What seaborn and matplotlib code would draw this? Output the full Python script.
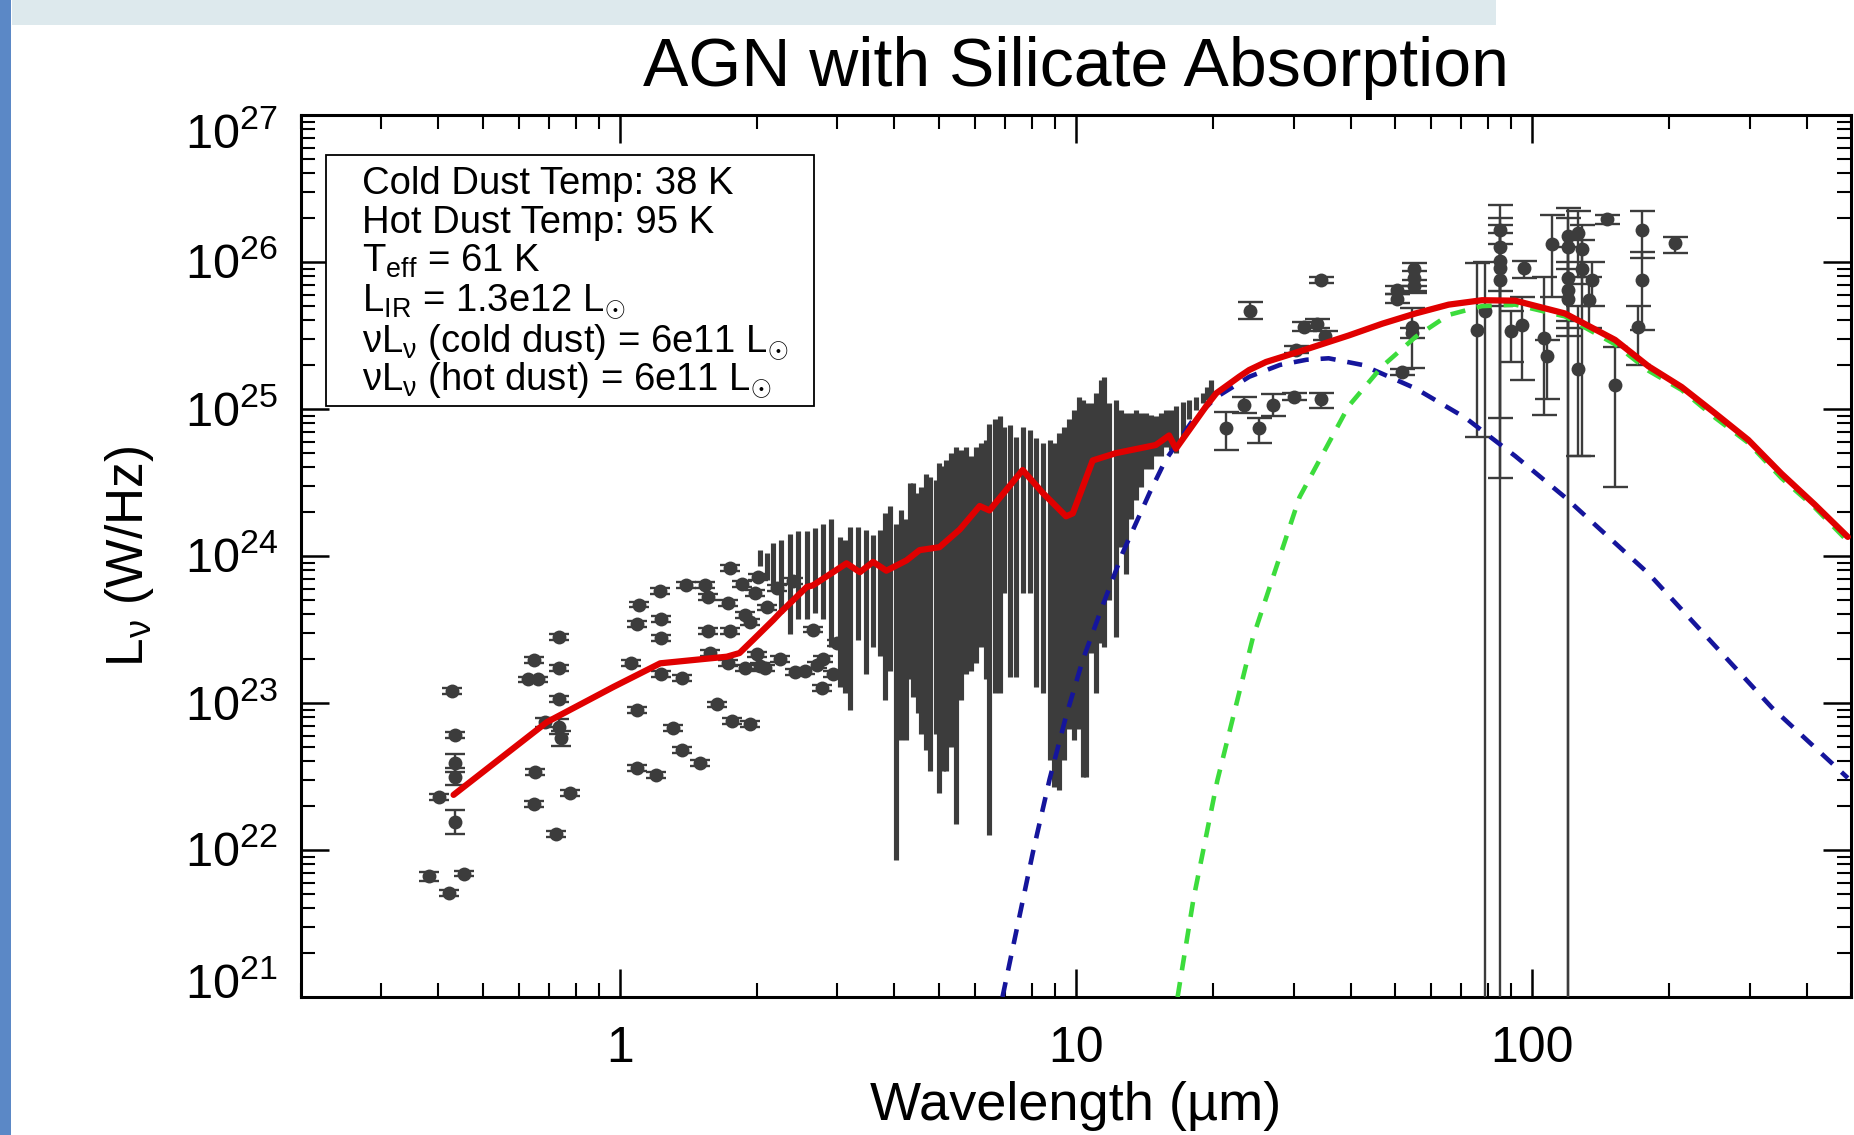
import matplotlib
matplotlib.use("Agg")
import matplotlib.pyplot as plt
from matplotlib.patches import Rectangle
from matplotlib.ticker import LogLocator, NullFormatter, FixedLocator, FixedFormatter
from matplotlib.transforms import offset_copy
import numpy as np
import pandas as pd
import seaborn as sns

sns.set_theme(style="ticks")
plt.rcParams["font.family"] = ["Liberation Sans", "DejaVu Sans"]
plt.rcParams["mathtext.fontset"] = "custom"
plt.rcParams["mathtext.rm"] = "Liberation Sans"
plt.rcParams["mathtext.it"] = "Liberation Sans:italic"
plt.rcParams["mathtext.bf"] = "Liberation Sans:bold"
plt.rcParams["mathtext.sf"] = "Liberation Sans"

# ---------------- data (wavelength in micron, luminosity as log10 W/Hz) ----------------
opt_wave = [0.429, 0.436, 0.436, 0.436, 0.401, 0.436, 0.381, 0.422, 0.455,
            0.648, 0.630, 0.660, 0.734, 0.734, 0.734, 0.687, 0.734, 0.743, 0.653, 0.648, 0.779, 0.723,
            1.10, 1.09, 1.225, 1.23, 1.23, 1.06, 1.23, 1.37, 1.40, 1.54, 1.56, 1.56, 1.09, 1.31, 1.37, 1.50, 1.09, 1.20,
            1.63, 1.76, 1.93, 1.74, 1.73, 1.74, 1.58, 1.73, 1.85, 2.01, 1.98, 2.10, 1.88, 1.93, 2.00, 1.88, 2.03, 2.24, 2.08,
            2.42, 2.55, 2.70, 2.79, 2.94, 2.77, 2.65, 2.99, 2.21, 2.40]
opt_logL = [23.08, 22.78, 22.59, 22.50, 22.36, 22.19, 21.82, 21.71, 21.84,
            23.29, 23.16, 23.16, 23.45, 23.24, 23.03, 22.87, 22.84, 22.76, 22.53, 22.31, 22.39, 22.11,
            23.67, 23.54, 23.76, 23.57, 23.44, 23.27, 23.20, 23.17, 23.80, 23.80, 23.72, 23.49, 22.95, 22.83, 22.68, 22.59, 22.56, 22.51,
            22.99, 22.88, 22.86, 23.92, 23.68, 23.49, 23.34, 23.27, 23.81, 23.86, 23.75, 23.65, 23.60, 23.55, 23.33, 23.24, 23.25, 23.30, 23.24,
            23.21, 23.22, 23.26, 23.30, 23.20, 23.10, 23.50, 23.41, 23.78, 23.83]
opt_err = [0.02, 0.02, 0.06, 0.06, 0.02, 0.08, 0.03, 0.02, 0.02,
           0.02, 0.02, 0.02, 0.02, 0.02, 0.02, 0.03, 0.05, 0.05, 0.02, 0.02, 0.02, 0.02,
           0.02, 0.02, 0.02, 0.02, 0.02, 0.02, 0.02, 0.02, 0.02, 0.02, 0.02, 0.02, 0.02, 0.02, 0.02, 0.02, 0.02, 0.02,
           0.02, 0.02, 0.02, 0.02, 0.02, 0.02, 0.02, 0.02, 0.02, 0.02, 0.02, 0.02, 0.02, 0.02, 0.02, 0.02, 0.02, 0.02, 0.02,
           0.02, 0.02, 0.02, 0.02, 0.02, 0.02, 0.02, 0.02, 0.02, 0.02]

fir_wave = [24.1, 34.4, 21.3, 23.4, 25.2, 27.0, 30.1, 34.4, 31.6, 33.8, 35.2, 30.3,
            55.0, 55.0, 55.2, 50.6, 50.6, 54.6, 54.6, 51.9, 75.7, 79.0,
            85.2, 85.2, 85.2, 85.2, 85.2, 89.7, 94.8, 96.2, 110.4, 105.9, 107.6,
            120.0, 120.0, 120.0, 120.0, 120.0, 126.2, 128.5, 128.5, 135.2, 133.0, 126.2,
            145.7, 152.1, 173.8, 173.8, 171.0, 205.6]
fir_logL = [25.67, 25.88, 24.87, 25.03, 24.87, 25.03, 25.08, 25.07, 25.56, 25.58, 25.50, 25.40,
            25.95, 25.89, 25.84, 25.81, 25.75, 25.56, 25.52, 25.25, 25.54, 25.67,
            26.22, 26.10, 26.01, 25.88, 25.96, 25.53, 25.57, 25.96, 26.12, 25.48, 25.36,
            26.18, 26.10, 25.89, 25.81, 25.75, 26.20, 26.09, 25.95, 25.88, 25.74, 25.27,
            26.29, 25.16, 26.22, 25.88, 25.56, 26.13]
fir_lo = [25.61, 25.86, 24.72, 24.97, 24.77, 24.95, 25.06, 25.01, 25.53, 25.55, 25.47, 25.38,
          25.79, 25.84, 25.80, 25.78, 25.72, 25.28, 25.48, 25.23, 24.81, 20.5,
          24.53, 24.94, 25.70, 20.5, 25.80, 25.32, 25.20, 25.89, 25.76, 24.96, 25.07,
          20.5, 20.5, 25.60, 25.55, 25.50, 25.90, 25.85, 24.68, 25.70, 25.55, 24.68,
          26.26, 24.47, 26.03, 25.54, 25.30, 26.06]
fir_hi = [25.73, 25.90, 24.98, 25.08, 24.94, 25.10, 25.11, 25.11, 25.59, 25.61, 25.53, 25.43,
          25.99, 25.94, 25.88, 25.84, 25.78, 25.69, 25.55, 25.27, 25.99, 26.00,
          26.39, 26.30, 26.25, 26.20, 26.12, 25.67, 25.76, 26.01, 26.32, 25.90, 25.47,
          26.37, 26.30, 26.10, 26.00, 25.95, 26.35, 26.25, 26.15, 26.00, 25.90, 25.70,
          26.32, 25.42, 26.35, 26.07, 25.70, 26.17]

spec_wave = [2.03, 2.10, 2.17, 2.26, 2.36, 2.46, 2.57, 2.68, 2.79, 2.91, 3.04, 3.11, 3.19, 3.33, 3.47, 3.59,
             3.71, 3.81, 3.91, 4.04, 4.14, 4.25, 4.32, 4.39, 4.50, 4.58, 4.70, 4.78, 4.94, 5.02, 5.11, 5.20,
             5.33, 5.47, 5.61, 5.75, 5.90, 6.05, 6.20, 6.36, 6.46, 6.63, 6.80, 6.97, 7.15, 7.39, 7.64, 7.91,
             8.18, 8.46, 8.75, 8.97, 9.20, 9.43, 9.67, 9.92, 10.17, 10.34, 10.52, 10.79, 11.07, 11.35, 11.54,
             11.83, 12.24, 12.55, 12.87, 13.20, 13.54, 13.88, 14.23, 14.60, 14.97, 15.36, 15.75, 16.15, 16.56,
             17.12, 17.70, 18.32, 18.94, 19.42, 19.75]
spec_top = [24.04, 24.02, 24.09, 24.11, 24.15, 24.17, 24.17, 24.19, 24.22, 24.25, 24.13, 24.11, 24.20, 24.20, 24.18, 24.14,
            24.18, 24.29, 24.34, 24.22, 24.31, 24.25, 24.50, 24.50, 24.43, 24.47, 24.56, 24.54, 24.52, 24.63, 24.61, 24.65,
            24.70, 24.74, 24.72, 24.74, 24.68, 24.74, 24.77, 24.79, 24.90, 24.93, 24.95, 24.88, 24.89, 24.81, 24.88, 24.86,
            24.80, 24.77, 24.79, 24.77, 24.84, 24.88, 24.93, 24.99, 25.08, 25.06, 25.04, 25.04, 25.11, 25.20, 25.22,
            25.04, 25.06, 24.99, 24.97, 24.97, 24.99, 24.97, 24.97, 24.96, 24.95, 24.97, 24.99, 24.99, 25.02,
            25.05, 25.06, 25.08, 25.11, 25.15, 25.20]
spec_bot = [23.93, 23.84, 23.79, 23.61, 23.47, 23.57, 23.57, 23.61, 23.57, 23.38, 23.11, 23.07, 22.95, 23.43, 23.20, 23.38,
            23.32, 23.02, 23.22, 21.93, 22.75, 22.75, 23.16, 23.04, 22.93, 22.79, 22.68, 22.54, 22.79, 22.39, 22.54, 22.54,
            22.70, 22.18, 23.02, 23.20, 23.22, 23.27, 23.38, 23.16, 22.10, 23.07, 23.07, 23.75, 23.18, 23.18, 23.75, 23.75,
            23.11, 23.07, 22.61, 22.43, 22.41, 22.61, 22.82, 22.75, 22.82, 22.50, 22.50, 23.34, 23.07, 23.41, 23.38,
            23.70, 23.45, 24.06, 23.88, 24.25, 24.38, 24.47, 24.59, 24.59, 24.68, 24.68, 24.74, 24.72, 24.70,
            24.81, 24.93, 24.99, 25.04, 25.06, 25.08]

total_wave = [0.432, 0.692, 0.969, 1.226, 1.716, 1.83, 1.96, 2.17, 2.24, 2.57, 2.65, 3.14, 3.36, 3.59, 3.84,
              4.25, 4.54, 5.02, 5.56, 6.15, 6.46, 7.64, 8.45, 9.51, 9.84, 10.88, 12.24, 14.96, 16.0, 16.56,
              19.3, 20.3, 22.8, 23.96, 26.1, 30.8, 39.6, 46.9, 55.5, 65.6, 77.6, 91.8, 118.0, 152.0, 180.0,
              212.6, 252.0, 297.6, 352.0, 416.3, 492.0]
total_logL = [22.375, 22.87, 23.11, 23.27, 23.315, 23.34, 23.43, 23.565, 23.61, 23.79, 23.80, 23.95, 23.89, 23.96, 23.90,
              23.97, 24.04, 24.06, 24.18, 24.34, 24.31, 24.585, 24.43, 24.27, 24.29, 24.65, 24.70, 24.755, 24.82, 24.73,
              25.02, 25.107, 25.22, 25.265, 25.32, 25.39, 25.50, 25.58, 25.65, 25.71, 25.74, 25.737, 25.65, 25.47, 25.29,
              25.15, 24.97, 24.79, 24.56, 24.35, 24.13]

hot_wave = [6.9, 8.04, 8.75, 9.51, 10.34, 11.43, 12.65, 14.5, 15.7, 18.0, 20.3, 24.0, 28.0, 32.0, 35.8,
            42.4, 55.5, 71.4, 91.8, 118.0, 180.0, 335.0, 492.0]
hot_logL = [21.0, 21.98, 22.48, 22.91, 23.29, 23.66, 24.02, 24.43, 24.65, 24.92, 25.08, 25.22, 25.30, 25.335, 25.345,
            25.30, 25.14, 24.94, 24.68, 24.40, 23.88, 22.97, 22.49]

cold_wave = [16.7, 18.1, 20.4, 24.4, 30.9, 39.6, 46.9, 55.5, 65.6, 77.6, 91.8, 118.0, 152.0, 180.0,
             212.6, 252.0, 297.6, 352.0, 416.3, 492.0]
cold_logL = [21.0, 21.67, 22.47, 23.44, 24.40, 25.02, 25.29, 25.49, 25.64, 25.70, 25.71, 25.63, 25.44, 25.26,
             25.13, 24.94, 24.77, 24.53, 24.33, 24.10]

x_ticks = [1, 10, 100]
x_tick_labels = ["1", "10", "100"]
y_tick_exps = [21, 22, 23, 24, 25, 26, 27]

box_lines = ["Cold Dust Temp: 38 K",
             "Hot Dust Temp: 95 K",
             r"T$_{\mathrm{eff}}$ = 61 K",
             r"L$_{\mathrm{IR}}$ = 1.3e12 L$_{\odot}$",
             r"$\mathrm{\nu}$L$_{\mathrm{\nu}}$ (cold dust) = 6e11 L$_{\odot}$",
             r"$\mathrm{\nu}$L$_{\mathrm{\nu}}$ (hot dust) = 6e11 L$_{\odot}$"]

# ---------------- figure ----------------
W, H = 1854, 1135
fig = plt.figure(figsize=(W / 100, H / 100), dpi=100, facecolor="white")
fig.patches.append(Rectangle((12 / W, 1 - 25 / H), (1496 - 12) / W, 25 / H, transform=fig.transFigure,
                             facecolor="#dde9ed", edgecolor="none", zorder=0))
fig.patches.append(Rectangle((0, 0), 11 / W, 1, transform=fig.transFigure,
                             facecolor="#5b88c6", edgecolor="none", zorder=0))

ax = fig.add_axes([301 / W, 1 - 997 / H, 1550 / W, 882 / H])
ax.set_facecolor("white")
ax.set_xscale("log")
ax.set_yscale("log")

gray = "#3c3c3c"

# IRS spectrum (error bars)
ax.vlines(spec_wave, 10 ** np.array(spec_bot), 10 ** np.array(spec_top), color=gray, lw=3.7, zorder=2)

# optical / NIR photometry
ol = np.array(opt_logL)
oe = np.array(opt_err)
opt_df = pd.DataFrame({"wave": opt_wave, "lum": 10 ** ol})
ax.errorbar(opt_wave, 10 ** ol, yerr=[10 ** ol - 10 ** (ol - oe), 10 ** (ol + oe) - 10 ** ol],
            fmt="none", ecolor=gray, elinewidth=1.7, capsize=7.5, capthick=1.7, zorder=3)
sns.scatterplot(data=opt_df, x="wave", y="lum", ax=ax, color=gray, s=100, edgecolor=gray,
                linewidth=0, zorder=3.5, legend=False)

# far-IR photometry
fl = np.array(fir_logL)
fir_df = pd.DataFrame({"wave": fir_wave, "lum": 10 ** fl})
ax.errorbar(fir_wave, 10 ** fl, yerr=[10 ** fl - 10 ** np.array(fir_lo), 10 ** np.array(fir_hi) - 10 ** fl],
            fmt="none", ecolor=gray, elinewidth=1.7, capsize=9, capthick=1.7, zorder=3)
sns.scatterplot(data=fir_df, x="wave", y="lum", ax=ax, color=gray, s=100, edgecolor=gray,
                linewidth=0, zorder=3.5, legend=False)

# model components
sns.lineplot(x=hot_wave, y=10 ** np.array(hot_logL), ax=ax, color="#15159c", lw=3.3,
             ls=(0, (3.3, 2.6)), sort=False, estimator=None, zorder=4)
sns.lineplot(x=cold_wave, y=10 ** np.array(cold_logL), ax=ax, color="#3cdc3c", lw=3.3,
             ls=(0, (3.3, 2.6)), sort=False, estimator=None, zorder=4)
sns.lineplot(x=total_wave, y=10 ** np.array(total_logL), ax=ax, color="#e00000", lw=4.5,
             sort=False, estimator=None, zorder=5)

ax.set_xlim(0.2, 500)
ax.set_ylim(1e21, 1e27)
ax.set_xlabel("")
ax.set_ylabel("")

for s in ax.spines.values():
    s.set_linewidth(2.2)
    s.set_color("black")
    s.set_visible(True)

ax.xaxis.set_major_locator(FixedLocator(x_ticks))
ax.xaxis.set_major_formatter(FixedFormatter(x_tick_labels))
ax.xaxis.set_minor_locator(LogLocator(base=10, subs=np.arange(2, 10), numticks=30))
ax.xaxis.set_minor_formatter(NullFormatter())
ax.yaxis.set_major_locator(FixedLocator([10.0 ** e for e in y_tick_exps]))
ax.yaxis.set_minor_locator(LogLocator(base=10, subs=np.arange(2, 10), numticks=30))
ax.yaxis.set_minor_formatter(NullFormatter())

ax.tick_params(axis="both", which="major", direction="in", length=20, width=1.8,
               top=True, right=True, color="black")
ax.tick_params(axis="both", which="minor", direction="in", length=10, width=1.5,
               top=True, right=True, color="black")
ax.tick_params(axis="x", which="major", labelsize=36, pad=21, labelcolor="black")
ax.tick_params(axis="y", which="both", labelleft=False)

# y tick labels (IDL-like placement: end labels nudged inward)
for e in y_tick_exps:
    dy = -16.5
    if e == y_tick_exps[-1]:
        dy -= 16
    if e == y_tick_exps[0]:
        dy += 15
    tr = offset_copy(ax.get_yaxis_transform(), fig=fig, x=-23, y=dy, units="dots")
    ax.text(0, 10.0 ** e, r"$\mathregular{10^{%d}}$" % e, transform=tr, ha="right", va="baseline",
            fontsize=35, color="black", clip_on=False)

# annotation box
fig.add_artist(Rectangle((326 / W, 1 - 406 / H), (814 - 326) / W, (406 - 155) / H, transform=fig.transFigure,
                         facecolor="white", edgecolor="black", lw=1.3, zorder=6))
baselines = [194, 233, 272, 311, 352, 390]
for txt, yb in zip(box_lines, baselines):
    fig.text(362 / W, 1 - yb / H, txt, ha="left", va="baseline", fontsize=27.5, color="black", zorder=7)

fig.text(1076 / W, 1 - 68 / H, "AGN with Silicate Absorption", ha="center", va="center", fontsize=49, color="black")
fig.text(1076 / W, 1 - 1106 / H, "Wavelength (µm)", ha="center", va="center", fontsize=39, color="black")
fig.text(130 / W, 1 - 556 / H, r"L$_{\mathrm{\nu}}$ (W/Hz)", ha="center", va="center", rotation=90,
         fontsize=37, color="black")

fig.savefig("out.png", dpi=100, facecolor="white")
